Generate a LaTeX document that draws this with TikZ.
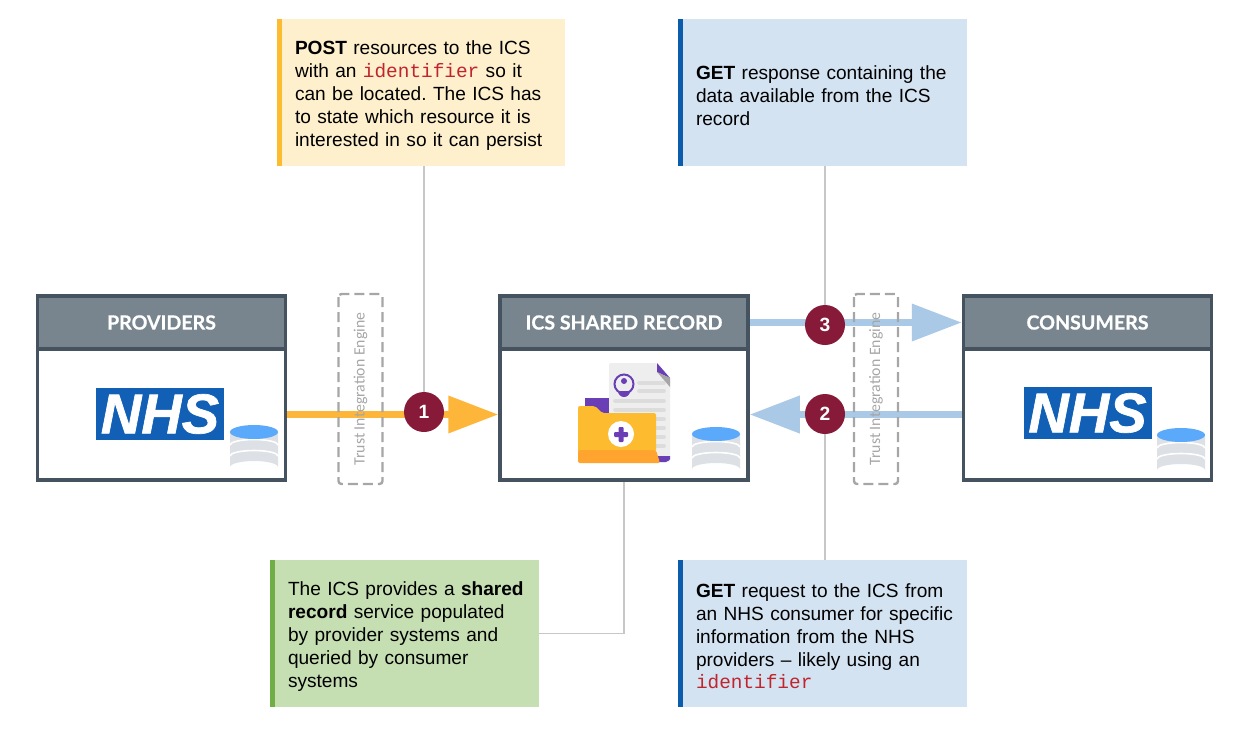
\documentclass[tikz,border=0pt]{standalone}
\usepackage{fontspec}
\setmainfont{Liberation Sans}
\setmonofont{Liberation Mono}
\newfontface\headfont{Lato Bold}[FakeBold=0.7]
\newfontfamily\trustfont{Carlito}
\newfontface\nhsfont{Liberation Sans Bold Italic}[FakeBold=1.2]
\usetikzlibrary{arrows.meta}
\definecolor{slateline}{HTML}{44535F}
\definecolor{slatefill}{HTML}{78858F}
\definecolor{numred}{HTML}{861A38}
\definecolor{flowyellow}{HTML}{FDB639}
\definecolor{flowblue}{HTML}{A9C9E7}
\definecolor{noteyellow}{HTML}{FEF0CD}
\definecolor{noteblue}{HTML}{D4E3F2}
\definecolor{notegreen}{HTML}{C5DFB2}
\definecolor{baryellow}{HTML}{FDBB30}
\definecolor{barblue}{HTML}{0B5CAD}
\definecolor{bargreen}{HTML}{70AD47}
\definecolor{nhsblue}{HTML}{1160B5}
\definecolor{dbblue}{HTML}{5AA9FB}
\definecolor{dbgrey}{HTML}{DDE0E4}
\definecolor{iconpurple}{HTML}{6A3FB5}
\definecolor{iconorange}{HTML}{FFA52F}
\definecolor{papergrey}{HTML}{EEEEEE}
\definecolor{paperline}{HTML}{DCDCDC}
\definecolor{codered}{HTML}{C0242C}
\newcommand{\codeword}[1]{{\ttfamily\fontsize{9.7}{11.4}\selectfont\color{codered}#1}}
\tikzset{
	headbox/.style={draw=slateline, line width=1.75pt, fill=slatefill, minimum width=124pt, minimum height=26.5pt, text=white, font=\headfont\fontsize{9.8}{11}\selectfont},
	bodybox/.style={draw=slateline, line width=1.75pt, fill=white, minimum width=124pt, minimum height=65.5pt},
	notebox/.style={minimum height=73.5pt, inner sep=0pt, align=left, font=\frenchspacing\fontsize{9.55}{11.4}\selectfont, execute at begin node={\leftskip=9pt\rule{0pt}{10pt}}},
	leader/.style={draw=black!22, line width=.6pt},
	flow/.style={line width=3.5pt, -{Triangle[length=25pt,width=18pt]}},
	numdot/.style={circle, fill=numred, text=white, minimum size=20pt, inner sep=0pt, font=\bfseries\fontsize{9.6}{11}\selectfont},
	trustbox/.style={draw=black!35, line width=1.2pt, dash pattern=on 5pt off 2.5pt, rounded corners=1.5pt, rotate=90, minimum width=95pt, minimum height=22pt, inner sep=0pt, text=black!35, font=\trustfont\fontsize{7.9}{10}\selectfont},
	nhslogo/.style={fill=nhsblue, text=white, minimum width=64pt, minimum height=26pt, inner sep=0pt, font=\nhsfont\fontsize{28}{28}\selectfont},
	dbicon/.pic={
		\fill[dbgrey] (-24,0) -- (-24,35) arc[x radius=24, y radius=6, start angle=180, end angle=360] -- (24,0) -- cycle;
		\draw[white, line width=.8pt] (-24,13) arc[x radius=24, y radius=5.5, start angle=180, end angle=360];
		\draw[white, line width=.8pt] (-24,24) arc[x radius=24, y radius=5.5, start angle=180, end angle=360];
		\fill[dbblue] (0,0) ellipse[x radius=24, y radius=7];
	}
}
\begin{document}
\begin{tikzpicture}[x=.5pt, y=-.5pt]
	\useasboundingbox (0,0) rectangle (1236,728);

	\node[headbox] (providershead) at (161.5,322.5) {PROVIDERS};
	\node[bodybox] (providers) at (161.5,414.5) {};
	\node[headbox] (icshead) at (624,322.5) {ICS SHARED RECORD};
	\node[bodybox] (ics) at (624,414.5) {};
	\node[headbox] (consumershead) at (1087.5,322.5) {CONSUMERS};
	\node[bodybox] (consumers) at (1087.5,414.5) {};

	\node[nhslogo] (nhsleft) at (160,414) {NHS};
	\node[nhslogo] (nhsright) at (1087.5,413) {NHS};
	\pic at (254,432) {dbicon};
	\pic at (716,434) {dbicon};
	\pic at (1181,435) {dbicon};

	% record icon
	\fill[papergrey, rounded corners=1pt] (609,363) -- (657,363) -- (670,378) -- (670,462) -- (609,462) -- cycle;
	\fill[iconpurple] (657,363) -- (670,378) -- (657,372) -- cycle;
	\fill[black!35] (670,378) -- (670,387) -- (657,372) -- cycle;
	\draw[iconpurple, line width=1pt] (624,384) circle (9.5);
	\fill[iconpurple] (624,381) circle (3);
	\fill[iconpurple] (618,391) arc[radius=6, start angle=180, end angle=0] -- cycle;
	\foreach \y in {383,391} \draw[paperline, line width=1.8pt, line cap=round] (639,\y) -- (664,\y);
	\foreach \y in {401,410} \draw[paperline, line width=1.8pt, line cap=round] (615,\y) -- (664,\y);
	\foreach \y in {419,428,437,446} \draw[paperline, line width=1.8pt, line cap=round] (656,\y) -- (664,\y);
	\fill[iconpurple] (585,398) -- (609,398) -- (609,420) -- (585,420) -- cycle;
	\fill[iconpurple] (650,456) -- (670,456) -- (670,459) [rounded corners=1pt] -- (668,462) -- (650,462) -- cycle;
	\fill[baryellow, rounded corners=1pt] (578,406) -- (595,406) -- (602,413) -- (656,413) -- (656,452) -- (578,452) -- cycle;
	\fill[iconorange, rounded corners=1pt] (578,450) -- (656,450) -- (660,463) -- (578,463) -- cycle;
	\fill[white] (621,434) circle (13);
	\fill[iconpurple, rounded corners=.5pt] (618.5,427) rectangle (623.5,442);
	\fill[iconpurple, rounded corners=.5pt] (614,432) rectangle (628,437);

	\node[notebox, fill=noteyellow, minimum width=144pt, text width=144pt] (post) at (421,92.5) {\textbf{POST} resources to the ICS\\with an \codeword{identifier} so it\\can be located. The ICS has\\to state which resource it is\\interested in so it can persist};
	\node[notebox, fill=noteblue, minimum width=144.5pt, text width=144.5pt] (getresp) at (822.5,92.5) {\textbf{GET} response containing the\\data available from the ICS\\record};
	\node[notebox, fill=notegreen, minimum width=134.5pt, text width=134.5pt] (shared) at (404.5,633.5) {The ICS provides a \textbf{shared}\\\textbf{record} service populated\\by provider systems and\\queried by consumer\\systems};
	\node[notebox, fill=noteblue, minimum width=144.5pt, text width=144.5pt] (getreq) at (822.5,633.5) {\textbf{GET} request to the ICS from\\an NHS consumer for specific\\information from the NHS\\providers -- likely using an\\\codeword{identifier}};
	\fill[baryellow] (post.north west) rectangle ([xshift=2.5pt]post.south west);
	\fill[barblue] (getresp.north west) rectangle ([xshift=2.5pt]getresp.south west);
	\fill[bargreen] (shared.north west) rectangle ([xshift=2.5pt]shared.south west);
	\fill[barblue] (getreq.north west) rectangle ([xshift=2.5pt]getreq.south west);

	\draw[flow, flowyellow] (providers.east) -- (ics.west);
	\draw[flow, flowblue] (consumers.west) -- (ics.east);
	\draw[flow, flowblue] (icshead.east) -- (consumershead.west);

	\node[trustbox] (trustleft) at (360.5,389) {Trust Integration Engine};
	\node[trustbox] (trustright) at (876,389) {Trust Integration Engine};

	\node[numdot] (num1) at (424,412) {1};
	\node[numdot] (num2) at (825,414) {2};
	\node[numdot] (num3) at (825,325) {3};

	\draw[leader] (post.south -| num1) -- (num1);
	\draw[leader] (getresp.south -| num3) -- (num3);
	\draw[leader] (getreq.north -| num2) -- (num2);
	\draw[leader] (shared.east) -| (ics.south);
\end{tikzpicture}
\end{document}
